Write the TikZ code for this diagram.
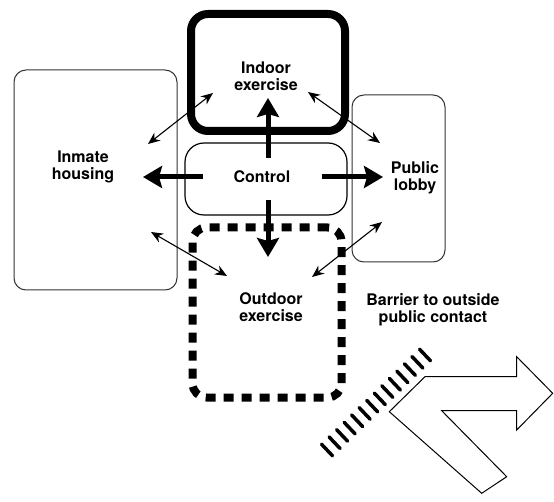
\documentclass[tikz,border=0pt]{standalone}
\usepackage{fontspec}
\setmainfont{TeX Gyre Heros}
\usetikzlibrary{arrows.meta, calc}
\tikzset{
  sala/.style = {draw=black!80, line width=1pt, rounded corners=12pt,
    inner sep=0pt},
  ctl/.style = {draw=black, line width=1.2pt, rounded corners=19pt,
    inner sep=0pt},
  ind/.style = {draw=black, line width=8pt, rounded corners=17pt,
    inner sep=0pt},
  outd/.style = {draw=black, line width=8pt, dash pattern=on 10pt off 8pt,
    rounded corners=14pt, inner sep=0pt},
  rot/.style = {font=\bfseries\fontsize{16}{17}\selectfont, align=center,
    inner sep=0pt},
  seta/.style = {-{Stealth[length=19pt, width=22pt, inset=3pt]},
    line width=5pt},
  lig/.style = {{Stealth[length=12pt, width=10pt]}-{Stealth[length=12pt, width=10pt]},
    line width=1.1pt},
  hach/.style = {line width=3.5pt, line cap=round},
  barr/.style = {draw=black, line width=1pt, fill=white}
}

\begin{document}
\begin{tikzpicture}[x=1pt, y=-1pt]
  \fill [white] (0,0) rectangle (554,502);
  \useasboundingbox (0,0) rectangle (554,502);
  \node [sala, minimum width=163pt, minimum height=220pt] (ih) at (95.5,180) {};
  \node [sala, minimum width=93pt, minimum height=167pt] (pl) at (398.5,178.5) {};
  \node [ind, minimum width=154pt, minimum height=117pt] (ie) at (268,72.5) {};
  \node [ctl, minimum width=162pt, minimum height=72pt] (ct) at (266,179) {};
  \node [outd, minimum width=149pt, minimum height=170pt] (oe) at (267,312.5) {};
  \node [rot] (tih) at (83,167) {Inmate\\housing};
  \node [rot] (tie) at (266,76) {Indoor\\exercise};
  \node [rot] (tct) at (262,177) {Control};
  \node [rot] (tpl) at (415,178) {Public\\lobby};
  \node [rot] (toe) at (271,307) {Outdoor\\exercise};
  \node [rot] (tbar) at (433,310) {Barrier to outside\\public contact};
  \coordinate (cu) at (268,158);  \coordinate (au) at (268,98);
  \coordinate (cd) at (268,200);  \coordinate (ad) at (268,257);
  \coordinate (cl) at (203,177);  \coordinate (al) at (143,177);
  \coordinate (cr) at (322,177);  \coordinate (ar) at (383,177);
  \draw [seta] (cu) -- (au);
  \draw [seta] (cd) -- (ad);
  \draw [seta] (cl) -- (al);
  \draw [seta] (cr) -- (ar);
  \coordinate (ih1) at (148,144); \coordinate (ie1) at (213,93);
  \coordinate (ih2) at (151,232); \coordinate (oe1) at (227,276);
  \coordinate (ie2) at (308,92);  \coordinate (pl1) at (380,143);
  \coordinate (pl2) at (382,222); \coordinate (oe2) at (312,277);
  \draw [lig] (ih1) -- (ie1);
  \draw [lig] (ih2) -- (oe1);
  \draw [lig] (ie2) -- (pl1);
  \draw [lig] (pl2) -- (oe2);
  \coordinate (h1) at (327,450);
  \coordinate (h2) at (425,355);
  \foreach \i in {0,...,13}
    \draw [hach] ($(h1)!\i/13!(h2) + (-5.5,-5.8)$) -- ++(11,11.6);
  \draw [barr] (425,376.7) -- (516.7,376.7) -- (516.7,356.7) -- (552.7,393.3)
    -- (516.7,430) -- (516.7,410.7) -- (441.7,410.7) -- (506.7,476.7)
    -- (481.7,493.3) -- (389.3,411.7) -- cycle;
\end{tikzpicture}
\end{document}
